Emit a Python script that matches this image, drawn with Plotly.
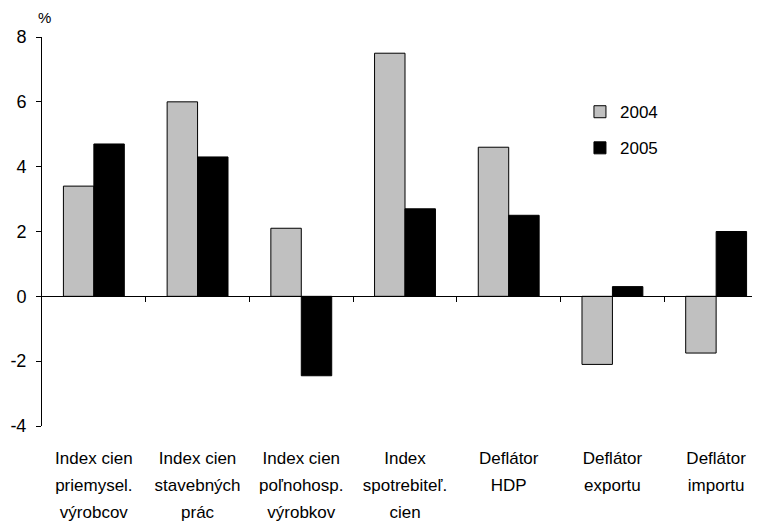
import plotly.graph_objects as go

categories = ["Index cien priemysel. výrobcov", "Index cien stavebných prác",
              "Index cien poľnohosp. výrobkov", "Index spotrebiteľ. cien",
              "Deflátor HDP", "Deflátor exportu", "Deflátor importu"]
label_line1 = ["Index cien", "Index cien", "Index cien", "Index", "Deflátor", "Deflátor", "Deflátor"]
label_line2 = ["priemysel.", "stavebných", "poľnohosp.", "spotrebiteľ.", "HDP", "exportu", "importu"]
label_line3 = ["výrobcov", "prác", "výrobkov", "cien", "", "", ""]
values_2004 = [3.4, 6.0, 2.1, 7.5, 4.6, -2.1, -1.75]
values_2005 = [4.7, 4.3, -2.45, 2.7, 2.5, 0.3, 2.0]
y_tickvals = [-4, -2, 0, 2, 4, 6, 8]
y_ticktext = ["-4", "-2", "0", "2", "4", "6", "8"]
y_min, y_max = -4, 8

FONT = "Liberation Sans, Arial, sans-serif"
n = len(categories)
x_range = [-0.5, n - 0.5]
idx = list(range(n))
boundaries = [i + 0.5 for i in range(n - 1)]

fig = go.Figure()
fig.add_trace(go.Bar(x=categories, y=values_2004, name="2004", legendgroup="a",
                     marker=dict(color="#C0C0C0", line=dict(color="black", width=1))))
fig.add_trace(go.Bar(x=categories, y=values_2005, name="2005", legendgroup="b",
                     marker=dict(color="black", line=dict(color="black", width=1))))

# invisible helper traces so the overlaid axes (zero line, label rows) are rendered
for ax in ["x2", "x3", "x4", "x5"]:
    fig.add_trace(go.Scatter(x=idx, y=[0] * n, xaxis=ax, yaxis="y", mode="markers",
                             marker=dict(opacity=0), showlegend=False, hoverinfo="skip"))

label_axis = dict(overlaying="x", anchor="y", side="bottom", type="linear", range=x_range,
                  showline=False, showgrid=False, zeroline=False, ticks="",
                  tickvals=idx, tickfont=dict(family=FONT, size=17, color="black"))

fig.update_layout(
    width=760, height=525,
    margin=dict(l=34, r=0, t=29, b=107),
    paper_bgcolor="white", plot_bgcolor="white",
    barmode="group", bargap=0.413, bargroupgap=0,
    font=dict(family=FONT, color="black"),
    showlegend=True,
    xaxis=dict(type="category", categoryarray=categories, range=x_range,
               showticklabels=False, showline=False, showgrid=False, ticks="", zeroline=False),
    xaxis2=dict(overlaying="x", anchor="free", position=(0 - y_min) / (y_max - y_min),
                type="linear", range=x_range, showline=True, linecolor="black", linewidth=1,
                ticks="outside", ticklen=5, tickcolor="black", tickwidth=1,
                tickvals=boundaries, showticklabels=False, showgrid=False, zeroline=False),
    xaxis3=dict(label_axis, ticktext=label_line1, ticklabelstandoff=20),
    xaxis4=dict(label_axis, ticktext=label_line2, ticklabelstandoff=47),
    xaxis5=dict(label_axis, ticktext=label_line3, ticklabelstandoff=74),
    yaxis=dict(range=[y_min, y_max], tickvals=y_tickvals, ticktext=y_ticktext,
               showline=True, linecolor="black", linewidth=1, ticks="outside", ticklen=5,
               tickcolor="black", showgrid=False, zeroline=False, ticklabelstandoff=6,
               tickfont=dict(family=FONT, size=18, color="black")),
    legend=dict(x=0.741, y=0.853, xanchor="left", yanchor="top", traceorder="grouped",
                tracegroupgap=11, bgcolor="rgba(0,0,0,0)",
                font=dict(family=FONT, size=17, color="black")),
    annotations=[dict(text="%", xref="paper", yref="paper", x=0, y=1, xanchor="left",
                      yanchor="bottom", yshift=9, xshift=-6, showarrow=False,
                      font=dict(family=FONT, size=15, color="black"))],
)

fig.write_html("out.html")
